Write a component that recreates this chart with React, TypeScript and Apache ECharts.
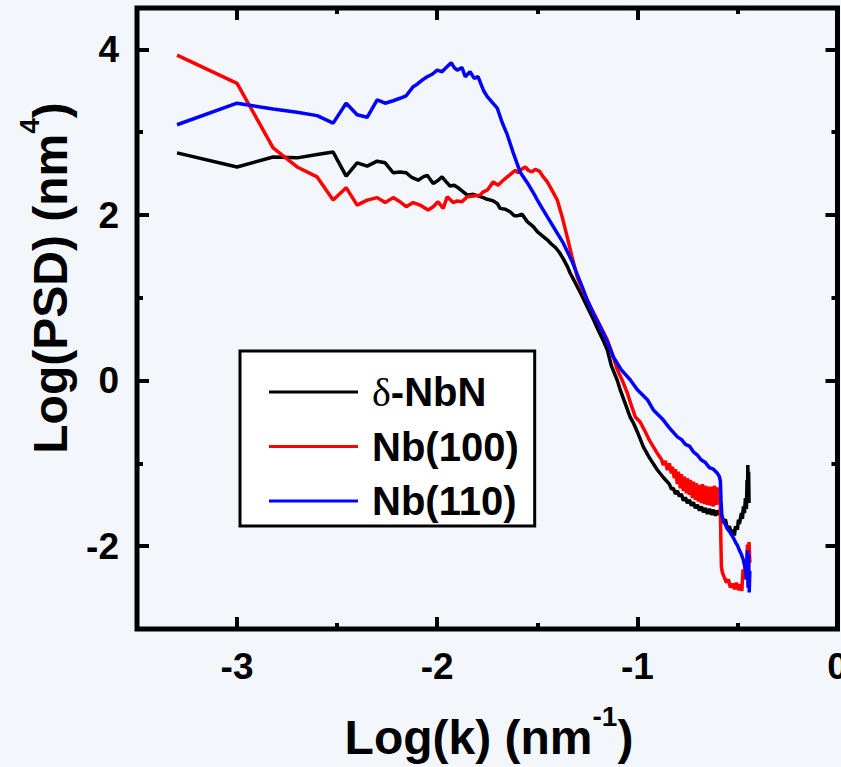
import React, { useEffect, useRef } from "react";
import * as echarts from "echarts";

// ---- Data (x = log k, y = log PSD) ----
const NBN_X = [-3.30, -3.00, -2.82, -2.70, -2.60, -2.52, -2.455, -2.40, -2.35, -2.30, -2.26, -2.22, -2.186, -2.155, -2.125, -2.095, -2.07, -2.05, -2.02, -1.995, -1.976, -1.955, -1.936, -1.915, -1.896, -1.87, -1.85, -1.82, -1.796, -1.77, -1.75, -1.72, -1.70, -1.686, -1.66, -1.636, -1.615, -1.60, -1.576, -1.55, -1.52, -1.50, -1.47, -1.45, -1.43, -1.41, -1.39, -1.37, -1.35, -1.336, -1.31, -1.28, -1.25, -1.22, -1.196, -1.17, -1.15, -1.13, -1.10, -1.086, -1.06, -1.036, -1.02, -1.00, -0.97, -0.94, -0.90, -0.87, -0.84, -0.83, -0.82, -0.81, -0.80, -0.79, -0.78, -0.77, -0.76, -0.75, -0.74, -0.73, -0.72, -0.71, -0.70, -0.69, -0.68, -0.67, -0.66, -0.65, -0.64, -0.63, -0.62, -0.61, -0.60, -0.59, -0.585, -0.58, -0.57, -0.56, -0.55, -0.54, -0.53, -0.52, -0.515, -0.51, -0.50, -0.495, -0.49, -0.48, -0.475, -0.47, -0.465, -0.46, -0.455, -0.452, -0.45, -0.448, -0.446, -0.444, -0.442];
const NBN_Y = [2.75, 2.58, 2.70, 2.69, 2.73, 2.76, 2.47, 2.63, 2.59, 2.65, 2.63, 2.51, 2.52, 2.51, 2.45, 2.42, 2.46, 2.48, 2.38, 2.42, 2.46, 2.40, 2.35, 2.36, 2.33, 2.28, 2.24, 2.25, 2.23, 2.21, 2.19, 2.17, 2.14, 2.08, 2.07, 2.04, 1.99, 1.99, 2.01, 1.92, 1.86, 1.80, 1.74, 1.70, 1.65, 1.61, 1.55, 1.47, 1.38, 1.30, 1.18, 1.04, 0.89, 0.74, 0.61, 0.48, 0.37, 0.18, 0.0, -0.11, -0.28, -0.44, -0.51, -0.62, -0.80, -0.93, -1.08, -1.17, -1.25, -1.31, -1.30, -1.37, -1.33, -1.40, -1.37, -1.45, -1.41, -1.48, -1.44, -1.51, -1.47, -1.54, -1.50, -1.57, -1.52, -1.59, -1.54, -1.61, -1.55, -1.62, -1.56, -1.63, -1.57, -1.62, -1.58, -1.64, -1.70, -1.68, -1.79, -1.76, -1.85, -1.80, -1.87, -1.76, -1.80, -1.68, -1.73, -1.60, -1.67, -1.52, -1.60, -1.42, -1.55, -1.20, -1.45, -1.02, -1.40, -1.10, -1.48];

const NB100_X = [-3.30, -3.00, -2.82, -2.70, -2.60, -2.52, -2.455, -2.40, -2.35, -2.30, -2.26, -2.22, -2.186, -2.155, -2.12, -2.086, -2.045, -2.02, -1.996, -1.97, -1.95, -1.92, -1.90, -1.876, -1.85, -1.82, -1.786, -1.77, -1.75, -1.72, -1.696, -1.67, -1.65, -1.63, -1.61, -1.596, -1.58, -1.56, -1.545, -1.526, -1.51, -1.49, -1.47, -1.45, -1.436, -1.42, -1.40, -1.376, -1.35, -1.326, -1.30, -1.275, -1.25, -1.225, -1.20, -1.175, -1.15, -1.125, -1.10, -1.075, -1.05, -1.03, -1.01, -0.986, -0.96, -0.94, -0.92, -0.90, -0.88, -0.87, -0.86, -0.85, -0.84, -0.83, -0.825, -0.815, -0.81, -0.80, -0.795, -0.785, -0.78, -0.77, -0.765, -0.755, -0.75, -0.74, -0.735, -0.725, -0.72, -0.71, -0.705, -0.695, -0.69, -0.68, -0.675, -0.665, -0.66, -0.65, -0.645, -0.635, -0.63, -0.62, -0.615, -0.605, -0.60, -0.595, -0.59, -0.586, -0.583, -0.58, -0.575, -0.565, -0.555, -0.545, -0.535, -0.525, -0.515, -0.505, -0.495, -0.485, -0.478, -0.472, -0.466, -0.46, -0.455, -0.45, -0.446, -0.442, -0.438];
const NB100_Y = [3.93, 3.59, 2.81, 2.58, 2.46, 2.18, 2.33, 2.12, 2.18, 2.21, 2.15, 2.21, 2.16, 2.10, 2.15, 2.12, 2.06, 2.10, 2.16, 2.08, 2.22, 2.15, 2.17, 2.16, 2.22, 2.23, 2.24, 2.28, 2.30, 2.40, 2.36, 2.42, 2.46, 2.50, 2.54, 2.51, 2.55, 2.58, 2.54, 2.52, 2.55, 2.53, 2.46, 2.40, 2.34, 2.27, 2.18, 1.98, 1.73, 1.49, 1.25, 1.10, 0.97, 0.85, 0.73, 0.61, 0.49, 0.32, 0.13, 0.0, -0.15, -0.30, -0.44, -0.50, -0.62, -0.72, -0.80, -0.88, -0.95, -1.02, -0.97, -1.08, -1.00, -1.12, -1.04, -1.18, -1.07, -1.25, -1.10, -1.30, -1.13, -1.33, -1.16, -1.36, -1.18, -1.38, -1.20, -1.42, -1.22, -1.44, -1.24, -1.46, -1.26, -1.48, -1.25, -1.49, -1.27, -1.50, -1.28, -1.51, -1.28, -1.52, -1.27, -1.50, -1.29, -1.48, -1.30, -1.45, -1.90, -2.25, -2.32, -2.38, -2.44, -2.40, -2.50, -2.45, -2.52, -2.44, -2.53, -2.46, -2.54, -2.28, -2.40, -2.20, -2.36, -1.98, -2.30, -1.95, -2.20];

const NB110_X = [-3.30, -3.00, -2.82, -2.70, -2.60, -2.52, -2.455, -2.40, -2.35, -2.30, -2.26, -2.22, -2.186, -2.155, -2.12, -2.10, -2.075, -2.05, -2.025, -2.00, -1.976, -1.955, -1.93, -1.915, -1.90, -1.876, -1.86, -1.836, -1.815, -1.796, -1.77, -1.75, -1.725, -1.70, -1.676, -1.65, -1.62, -1.586, -1.55, -1.52, -1.495, -1.47, -1.445, -1.42, -1.395, -1.37, -1.35, -1.326, -1.30, -1.275, -1.25, -1.22, -1.186, -1.15, -1.12, -1.08, -1.036, -1.00, -0.95, -0.92, -0.876, -0.84, -0.80, -0.78, -0.76, -0.74, -0.72, -0.70, -0.68, -0.66, -0.64, -0.62, -0.60, -0.59, -0.585, -0.582, -0.578, -0.57, -0.56, -0.55, -0.54, -0.53, -0.52, -0.51, -0.50, -0.49, -0.48, -0.47, -0.46, -0.455, -0.45, -0.447, -0.444, -0.441, -0.438];
const NB110_Y = [3.09, 3.35, 3.28, 3.24, 3.20, 3.11, 3.35, 3.21, 3.18, 3.39, 3.35, 3.38, 3.41, 3.44, 3.55, 3.58, 3.63, 3.67, 3.70, 3.75, 3.73, 3.78, 3.84, 3.78, 3.75, 3.78, 3.67, 3.73, 3.65, 3.67, 3.51, 3.43, 3.36, 3.29, 3.12, 2.97, 2.75, 2.52, 2.39, 2.27, 2.16, 2.06, 1.96, 1.86, 1.76, 1.66, 1.56, 1.44, 1.28, 1.13, 0.97, 0.81, 0.65, 0.47, 0.285, 0.13, 0.01, -0.11, -0.23, -0.355, -0.46, -0.57, -0.68, -0.71, -0.77, -0.79, -0.86, -0.90, -0.96, -0.99, -1.05, -1.07, -1.12, -1.16, -1.22, -1.45, -1.62, -1.70, -1.74, -1.79, -1.82, -1.86, -1.90, -1.95, -1.99, -2.05, -2.10, -2.17, -2.28, -2.40, -2.05, -2.50, -2.10, -2.56, -2.30];

const SERIES_NAMES = ["δ-NbN", "Nb(100)", "Nb(110)"];
const SERIES_COLORS = ["#000000", "#ff0000", "#0000ff"];

const X_MAJOR = [-3, -2, -1, 0];
const X_MINOR = [-2.5, -1.5, -0.5];
const Y_MAJOR = [4, 2, 0, -2];
const Y_MINOR = [3, 1, -1];

const FONT = "'Liberation Sans', Arial, Helvetica, sans-serif";
const BG = "#f3f7fc";

function zip(xs: number[], ys: number[]) {
  return xs.map((x, i) => [x, ys[i]]);
}

export default function App() {
  const ref = useRef<HTMLDivElement>(null);

  useEffect(() => {
    if (!ref.current) return;
    const chart = echarts.init(ref.current, null, { renderer: "svg" });

    const tickStyle = { color: "#000", width: 4 };
    const noLine = { show: false, onZero: false };
    const xCommon = { type: "value", min: -3.5, max: 0, gridIndex: 0, splitLine: { show: false }, axisLine: noLine };
    const yCommon = { type: "value", min: -3, max: 4.5, gridIndex: 0, splitLine: { show: false }, axisLine: noLine };

    const titleRich = {
      a: { fontSize: 48, fontWeight: "bold", fontFamily: FONT, fill: "#000", lineHeight: 70 },
      s: { fontSize: 28, fontWeight: "bold", fontFamily: FONT, fill: "#000", lineHeight: 28, verticalAlign: "top" },
    };

    const datasets = [zip(NBN_X, NBN_Y), zip(NB100_X, NB100_Y), zip(NB110_X, NB110_Y)];

    chart.setOption({
      animation: false,
      backgroundColor: BG,
      grid: {
        left: 137,
        top: 8,
        right: 3.5,
        bottom: 138,
        show: true,
        borderColor: "#000",
        borderWidth: 5,
        backgroundColor: "transparent",
        outerBoundsMode: "none",
        containLabel: false,
      },
      xAxis: [
        {
          ...xCommon,
          position: "bottom",
          axisTick: { show: true, inside: true, length: 12, lineStyle: tickStyle, customValues: X_MAJOR },
          axisLabel: { show: true, customValues: X_MAJOR, fontSize: 37, fontWeight: "bold", color: "#000", fontFamily: FONT, margin: 19 },
        },
        {
          ...xCommon,
          position: "bottom",
          axisTick: { show: true, inside: true, length: 6, lineStyle: tickStyle, customValues: X_MINOR },
          axisLabel: { show: false },
        },
        {
          ...xCommon,
          position: "top",
          axisTick: { show: true, inside: true, length: 12, lineStyle: tickStyle, customValues: X_MAJOR },
          axisLabel: { show: false },
        },
        {
          ...xCommon,
          position: "top",
          axisTick: { show: true, inside: true, length: 6, lineStyle: tickStyle, customValues: X_MINOR },
          axisLabel: { show: false },
        },
      ],
      yAxis: [
        {
          ...yCommon,
          position: "left",
          axisTick: { show: true, inside: true, length: 12, lineStyle: tickStyle, customValues: Y_MAJOR },
          axisLabel: { show: true, customValues: Y_MAJOR, fontSize: 37, fontWeight: "bold", color: "#000", fontFamily: FONT, margin: 18 },
        },
        {
          ...yCommon,
          position: "left",
          axisTick: { show: true, inside: true, length: 6, lineStyle: tickStyle, customValues: Y_MINOR },
          axisLabel: { show: false },
        },
        {
          ...yCommon,
          position: "right",
          axisTick: { show: true, inside: true, length: 12, lineStyle: tickStyle, customValues: Y_MAJOR },
          axisLabel: { show: false },
        },
        {
          ...yCommon,
          position: "right",
          axisTick: { show: true, inside: true, length: 6, lineStyle: tickStyle, customValues: Y_MINOR },
          axisLabel: { show: false },
        },
      ],
      legend: {
        orient: "vertical",
        left: 240,
        top: 351,
        padding: [18, 16, 2, 29],
        icon: "rect",
        itemWidth: 89,
        itemHeight: 3,
        itemGap: 8.5,
        backgroundColor: "#ffffff",
        borderColor: "#000",
        borderWidth: 3,
        borderRadius: 0,
        data: SERIES_NAMES,
        formatter: (name: string) => (name.startsWith("δ") ? "{g|δ}" + name.slice(1) : name),
        textStyle: {
          fontSize: 40,
          fontWeight: "bold",
          fontFamily: FONT,
          color: "#000",
          lineHeight: 46,
          padding: [0, 0, 0, 9],
          rich: {
            g: { fontSize: 40, fontWeight: "normal", fontFamily: "'Liberation Serif', 'DejaVu Serif', serif", color: "#000", lineHeight: 46 },
          },
        },
      },
      graphic: [
        {
          type: "text",
          x: 489,
          y: 737,
          style: {
            text: "{a|Log(k) (nm}{s|-1}{a|)}",
            rich: titleRich,
            align: "center",
            verticalAlign: "middle",
          },
        },
        {
          type: "text",
          x: 50,
          y: 278,
          rotation: Math.PI / 2,
          style: {
            text: "{a|Log(PSD) (nm}{s|4}{a|)}",
            rich: titleRich,
            align: "center",
            verticalAlign: "middle",
          },
        },
      ],
      series: SERIES_NAMES.map((name, i) => ({
        name,
        type: "line",
        xAxisIndex: 0,
        yAxisIndex: 0,
        data: datasets[i],
        symbol: "none",
        showSymbol: false,
        smooth: false,
        lineStyle: { color: SERIES_COLORS[i], width: 3.5 },
        itemStyle: { color: SERIES_COLORS[i] },
        emphasis: { disabled: true },
      })),
    });

    return () => chart.dispose();
  }, []);

  return (
    <div
      ref={ref}
      style={{ position: "fixed", left: 0, top: 0, width: 841, height: 767, background: BG }}
    />
  );
}
